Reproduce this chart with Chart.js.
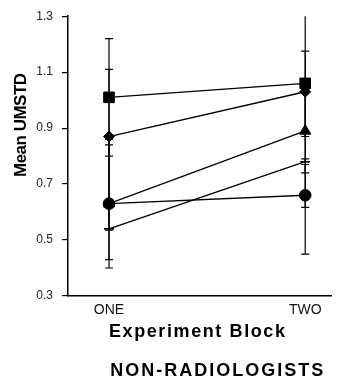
<!DOCTYPE html>
<html>
<head>
<meta charset="utf-8">
<script src="https://cdn.jsdelivr.net/npm/chart.js@4/dist/chart.umd.min.js"></script>
<style>
  html, body { margin: 0; padding: 0; background: #fff; }
  #wrap { width: 340px; height: 385px; }
</style>
</head>
<body>
<div id="wrap"><canvas id="umstdChart"></canvas></div>
<script>
// experiment blocks on the x axis
const blocks = ['ONE', 'TWO'];
const yTicks = [0.3, 0.5, 0.7, 0.9, 1.1, 1.3];

// mean UMSTD per group (one value per block)
const squareMeans   = [1.01, 1.06];
const diamondMeans  = [0.87, 1.03];
const triangleMeans = [0.63, 0.89];
const circleMeans   = [0.63, 0.66];
const dashMeans     = [0.54, 0.78];

// error bar ends per group: [low, high] for each block
const squareErr   = [[0.80, 1.22], [0.78, 1.33]];
const diamondErr  = [[0.63, 1.11], [0.87, 1.175]];
const triangleErr = [[0.43, 0.84], [0.74, 1.04]];
const circleErr   = [[0.40, 0.86], [0.45, 0.77]];
const dashErr     = [[0.535, 0.63], [0.617, 0.79]];

const FONT = '"Liberation Sans", Arial, Helvetica, sans-serif';

function series(means, errs, style, radius) {
    return {
        data: means.map((v, i) => ({ x: i, y: v })),
        errs: errs,
        borderColor: '#000',
        borderWidth: 1.3,
        pointStyle: style,
        pointRadius: radius,
        pointBackgroundColor: '#000',
        pointBorderColor: '#000',
        pointBorderWidth: style === 'line' ? 1.6 : 1,
        tension: 0
    };
}

// vertical error bars with short caps, drawn under the markers
const errorBars = {
    id: 'errorBars',
    beforeDatasetsDraw(chart) {
        const { ctx, chartArea } = chart;
        const xs = chart.scales.x, ys = chart.scales.y;
        ctx.save();
        ctx.beginPath();
        ctx.rect(chartArea.left, chartArea.top, chartArea.right - chartArea.left, chartArea.bottom - chartArea.top);
        ctx.clip();
        ctx.strokeStyle = '#000';
        ctx.lineWidth = 1.2;
        chart.data.datasets.forEach(ds => {
            ds.errs.forEach((pair, i) => {
                const px = xs.getPixelForValue(i);
                const lo = ys.getPixelForValue(pair[0]);
                const hi = ys.getPixelForValue(pair[1]);
                ctx.beginPath();
                ctx.moveTo(px, lo); ctx.lineTo(px, hi);
                ctx.moveTo(px - 4, lo); ctx.lineTo(px + 4, lo);
                ctx.moveTo(px - 4, hi); ctx.lineTo(px + 4, hi);
                ctx.stroke();
            });
        });
        ctx.restore();
    }
};

// axis titles and caption, with the wide letter spacing of the original
const captions = {
    id: 'captions',
    afterDraw(chart) {
        const { ctx, chartArea } = chart;
        ctx.save();
        ctx.fillStyle = '#000';
        ctx.textAlign = 'center';
        ctx.textBaseline = 'middle';

        ctx.font = 'bold 18px ' + FONT;
        ctx.letterSpacing = '1.6px';
        ctx.fillText('Experiment Block', (chartArea.left + chartArea.right) / 2 - 2, chartArea.bottom + 36);

        ctx.letterSpacing = '2px';
        ctx.fillText('NON-RADIOLOGISTS', (chartArea.left + chartArea.right) / 2 + 18, chartArea.bottom + 75);

        ctx.font = 'bold 17px ' + FONT;
        ctx.letterSpacing = '-0.5px';
        ctx.translate(21, chartArea.top + 109);
        ctx.rotate(-Math.PI / 2);
        ctx.fillText('Mean UMSTD', 0, 0);
        ctx.restore();
    }
};

new Chart(document.getElementById('umstdChart').getContext('2d'), {
    type: 'line',
    data: {
        datasets: [
            series(squareMeans, squareErr, 'rect', 7.5),
            series(diamondMeans, diamondErr, 'rectRot', 5.5),
            series(triangleMeans, triangleErr, 'triangle', 6.5),
            series(circleMeans, circleErr, 'circle', 5.8),
            series(dashMeans, dashErr, 'line', 5)
        ]
    },
    options: {
        responsive: true,
        maintainAspectRatio: false,
        animation: false,
        layout: { padding: { top: 15, right: 2, left: 0, bottom: 0 } },
        plugins: {
            legend: { display: false },
            tooltip: { enabled: false }
        },
        scales: {
            x: {
                type: 'linear',
                min: -0.209,
                max: 1.134,
                afterBuildTicks: s => { s.ticks = blocks.map((b, i) => ({ value: i })); },
                afterFit: s => { s.height = 89; },
                ticks: {
                    callback: v => blocks[v],
                    font: { family: FONT, size: 14 },
                    color: '#111',
                    padding: 6,
                    maxRotation: 0
                },
                grid: { display: false, drawTicks: false },
                border: { display: true, color: '#000', width: 1.5 }
            },
            y: {
                min: 0.3,
                max: 1.3,
                afterBuildTicks: s => { s.ticks = yTicks.map(v => ({ value: v })); },
                afterFit: s => { s.width = 68; },
                ticks: {
                    callback: v => v.toFixed(1),
                    font: { family: FONT, size: 12 },
                    color: '#222',
                    padding: 9
                },
                grid: { drawOnChartArea: false, drawTicks: true, tickLength: 6, color: '#000', lineWidth: 1.2 },
                border: { display: true, color: '#000', width: 1.5 }
            }
        }
    },
    plugins: [errorBars, captions]
});
</script>
</body>
</html>
